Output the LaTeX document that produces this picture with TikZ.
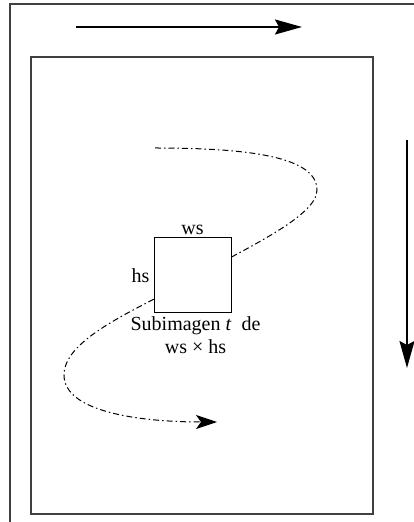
\documentclass[tikz,border=0pt]{standalone}
\usepackage{fontspec}
\setmainfont{Liberation Serif}
\usetikzlibrary{arrows.meta}

\begin{document}
\begin{tikzpicture}[
  x=1pt, y=1pt,
  frame/.style={line width=1.2pt, black!75},
  sweep/.style={line width=2pt, -{Stealth[length=27pt,width=15pt,inset=4pt]}},
  scan/.style={line width=1pt, dash pattern=on 6pt off 3pt on 1.5pt off 3pt,
    -{Stealth[length=21pt,width=14pt,inset=5pt]}},
  subimg/.style={draw, line width=1pt, fill=white, inner sep=0pt,
    minimum width=77pt, minimum height=75pt},
  lbl/.style={font=\fontsize{20}{23}\selectfont, inner sep=1pt}
]
  \useasboundingbox (0,0) rectangle (414,522);

  % outer page and the image
  \draw[frame] (10,0) -- (10,518) -- (414,518);
  \draw[frame] (31,8) rectangle (373,465);

  % scanning directions
  \coordinate (hfrom) at (76,495);
  \coordinate (hto) at (302,495);
  \coordinate (vfrom) at (407,382);
  \coordinate (vto) at (407,154);
  \draw[sweep] (hfrom) -- (hto);
  \draw[sweep] (vfrom) -- (vto);

  % path followed by the window
  \coordinate (start) at (155,374);
  \coordinate (turnR) at (317,332);
  \coordinate (mid) at (192.5,243.5);
  \coordinate (turnL) at (64,147);
  \coordinate (stop) at (217,100);
  \draw[scan] (start) .. controls +(95,0) and +(0,33) .. (turnR)
    .. controls +(0,-27) and +(50,29) .. (mid)
    .. controls +(-50,-29) and +(0,38) .. (turnL)
    .. controls +(0,-37) and +(-77,0) .. (stop);

  % the subimage window
  \node[subimg] (box) at (192.5,246.5) {};
  \node[lbl, anchor=south] (ws) at ([yshift=2pt]box.north) {ws};
  \node[lbl, anchor=east] (hs) at ([xshift=-3pt]box.west) {hs};
  \node[lbl, anchor=north] (cap1) at ([xshift=3pt,yshift=-2pt]box.south) {Subimagen \textit{t}\enspace de};
  \node[lbl, anchor=north] (cap2) at ([yshift=-2pt]cap1.south) {ws × hs};
\end{tikzpicture}
\end{document}
